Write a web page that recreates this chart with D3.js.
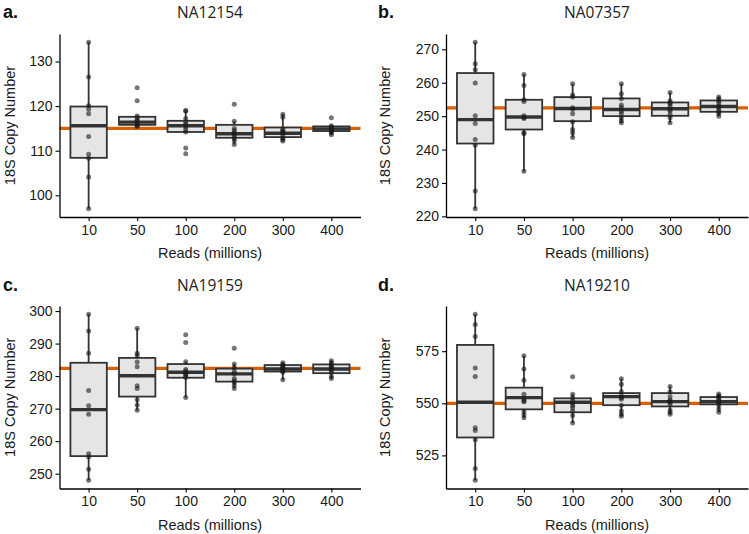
<!DOCTYPE html>
<html>
<head>
<meta charset="utf-8">
<script src="https://cdn.jsdelivr.net/npm/d3@7"></script>
<style>
  html, body { margin: 0; padding: 0; background: #fff; }
  svg { display: block; }
</style>
</head>
<body>
<script>
// ---------------- DATA ----------------
const categories = ["10", "50", "100", "200", "300", "400"];
const panelLetters = ["a.", "b.", "c.", "d."];
const panelTitles = ["NA12154", "NA07357", "NA19159", "NA19210"];
const refValues = [115.0, 252.5, 282.4, 550.0];
const xTitle = "Reads (millions)";
const yTitle = "18S Copy Number";

const yTicksA = [100, 110, 120, 130];
const yTicksB = [220, 230, 240, 250, 260, 270];
const yTicksC = [250, 260, 270, 280, 290, 300];
const yTicksD = [525, 550, 575];

// individual replicate estimates per read depth
const pointsA = [
  [134.3, 126.5, 120.1, 119.3, 118.3, 113.2, 109.2, 108.3, 104.1, 97.0],
  [124.1, 121.2, 117.8, 117.4, 116.95, 116.6, 116.35, 115.9, 115.6, 115.45],
  [119.0, 118.9, 117.2, 116.3, 115.9, 115.4, 114.8, 114.2, 110.6, 109.3],
  [120.4, 116.6, 115.0, 114.55, 114.0, 113.8, 113.3, 112.8, 112.3, 111.4],
  [118.2, 117.5, 114.8, 114.55, 114.2, 114.0, 113.4, 112.8, 112.5, 112.2],
  [117.4, 115.6, 115.3, 115.1, 114.9, 114.7, 114.5, 114.3, 113.95, 113.6]
];
const pointsB = [
  [272.1, 265.7, 263.9, 259.9, 250.1, 247.8, 243.0, 241.3, 227.6, 222.3],
  [262.5, 259.2, 254.9, 254.4, 250.1, 249.6, 249.3, 245.1, 244.7, 233.5],
  [259.7, 256.3, 255.7, 252.5, 252.1, 250.7, 248.3, 246.0, 245.0, 243.6],
  [259.7, 256.7, 255.2, 253.3, 252.6, 251.5, 250.7, 249.5, 248.6, 248.0],
  [257.1, 254.6, 254.0, 253.6, 252.9, 252.0, 251.5, 250.4, 249.5, 248.0],
  [255.7, 255.2, 254.5, 254.0, 253.0, 252.6, 251.8, 251.3, 250.8, 250.0]
];
const pointsC = [
  [299.0, 293.9, 287.0, 275.6, 270.9, 268.3, 256.1, 255.1, 251.4, 248.0],
  [294.7, 287.0, 286.3, 284.3, 282.9, 277.0, 276.2, 272.7, 271.1, 269.5],
  [292.7, 290.3, 284.4, 282.0, 281.6, 280.9, 280.5, 280.1, 279.6, 273.4],
  [288.6, 283.7, 282.6, 281.5, 280.7, 279.3, 278.6, 278.1, 277.2, 276.2],
  [284.1, 283.6, 283.2, 282.9, 282.5, 282.2, 281.9, 281.6, 281.2, 278.9],
  [284.7, 284.1, 283.4, 283.0, 282.6, 282.2, 281.8, 281.2, 279.9, 279.3]
];
const pointsD = [
  [592.7, 587.8, 582.0, 566.9, 562.9, 538.3, 537.0, 532.5, 518.7, 513.1],
  [572.8, 566.5, 561.1, 554.3, 552.1, 551.1, 550.8, 546.0, 544.4, 543.1],
  [562.7, 554.3, 552.7, 551.1, 550.0, 549.0, 547.9, 546.3, 544.1, 540.6],
  [561.8, 559.1, 555.5, 553.5, 552.7, 552.0, 549.1, 546.3, 544.8, 543.8],
  [558.1, 555.5, 553.2, 551.6, 551.1, 550.5, 549.5, 546.8, 545.7, 544.8],
  [554.4, 553.6, 553.2, 552.4, 551.6, 550.8, 550.2, 549.1, 547.3, 545.7]
];

// box statistics: [lower whisker, Q1, median, Q3, upper whisker]
const boxA = [
  [97.0, 108.4, 115.6, 119.9, 134.3],
  [115.45, 115.8, 116.4, 117.6, 117.8],
  [114.0, 114.2, 115.6, 116.7, 119.0],
  [111.4, 112.9, 113.8, 115.8, 116.6],
  [112.2, 113.05, 113.9, 115.2, 118.2],
  [113.6, 114.4, 114.9, 115.45, 115.6]
];
const boxB = [
  [222.3, 241.8, 248.95, 262.9, 272.1],
  [233.5, 246.0, 249.75, 254.9, 262.5],
  [243.6, 248.5, 252.3, 255.7, 259.7],
  [248.0, 250.0, 252.0, 255.3, 259.7],
  [248.0, 250.1, 252.2, 254.1, 257.1],
  [250.0, 251.3, 252.9, 254.7, 255.8]
];
const boxC = [
  [248.0, 255.4, 269.7, 284.1, 299.0],
  [269.5, 273.7, 280.1, 285.6, 294.7],
  [273.4, 279.5, 281.2, 283.7, 284.4],
  [276.2, 278.3, 280.7, 282.3, 283.7],
  [278.9, 281.4, 282.2, 283.4, 284.1],
  [279.3, 280.9, 282.2, 283.6, 284.7]
];
const boxD = [
  [513.1, 533.6, 550.5, 578.0, 592.7],
  [543.1, 547.1, 552.7, 557.5, 572.8],
  [540.6, 545.7, 550.5, 552.4, 554.3],
  [543.8, 549.1, 553.2, 554.9, 561.8],
  [544.8, 548.5, 550.8, 554.9, 558.1],
  [545.7, 549.5, 550.8, 553.0, 554.4]
];

// ---------------- LAYOUT ----------------
const W = 749, H = 534;
const panels = [
  { letter: panelLetters[0], title: panelTitles[0], ref: refValues[0], pts: pointsA, box: boxA, ticks: yTicksA,
    ox: 0, left: 59.5, right: 360.5, top: 34, bottom: 217, base: 0 },
  { letter: panelLetters[1], title: panelTitles[1], ref: refValues[1], pts: pointsB, box: boxB, ticks: yTicksB,
    ox: 375, left: 446, right: 748, top: 34, bottom: 217, base: 0 },
  { letter: panelLetters[2], title: panelTitles[2], ref: refValues[2], pts: pointsC, box: boxC, ticks: yTicksC,
    ox: 0, left: 59.5, right: 360.5, top: 306, bottom: 488.5, base: 273 },
  { letter: panelLetters[3], title: panelTitles[3], ref: refValues[3], pts: pointsD, box: boxD, ticks: yTicksD,
    ox: 375, left: 446, right: 748, top: 306, bottom: 488.5, base: 273 }
];

const svg = d3.select("body").append("svg")
  .attr("width", W).attr("height", H)
  .attr("viewBox", `0 0 ${W} ${H}`);

const tickFont = "'Liberation Sans', Arial, sans-serif";
const titleFont = "'Open Sans', 'Noto Sans', sans-serif";
const boxStroke = "#333333";

panels.forEach(p => {
  const g = svg.append("g");
  const x = d3.scalePoint().domain(categories).range([p.left, p.right]).padding(0.6);
  const allVals = p.pts.flat().concat([p.ref]);
  const [mn, mx] = d3.extent(allVals);
  const pad = (mx - mn) * 0.05;
  const y = d3.scaleLinear().domain([mn - pad, mx + pad]).range([p.bottom, p.top]);
  const bw = x.step() * 0.75;

  // panel letter + title
  g.append("text").attr("x", p.ox + 3).attr("y", p.base + 17.5)
    .attr("font-family", tickFont).attr("font-weight", 700).attr("font-size", 18)
    .attr("fill", "#111").text(p.letter);
  g.append("text").attr("x", (p.left + p.right) / 2).attr("y", p.base + 17.5)
    .attr("text-anchor", "middle")
    .attr("font-family", titleFont).attr("font-size", 15.5)
    .attr("fill", "#222").text(p.title);

  // reference line (behind boxes)
  g.append("line")
    .attr("x1", p.left).attr("x2", p.right)
    .attr("y1", y(p.ref)).attr("y2", y(p.ref))
    .attr("stroke", "#D95F02").attr("stroke-width", 3.2);

  // boxes
  const bg = g.append("g");
  categories.forEach((c, i) => {
    const [lo, q1, med, q3, hi] = p.box[i];
    const cx = x(c);
    bg.append("line").attr("x1", cx).attr("x2", cx).attr("y1", y(hi)).attr("y2", y(q3))
      .attr("stroke", boxStroke).attr("stroke-width", 1.8);
    bg.append("line").attr("x1", cx).attr("x2", cx).attr("y1", y(q1)).attr("y2", y(lo))
      .attr("stroke", boxStroke).attr("stroke-width", 1.8);
    bg.append("rect").attr("x", cx - bw / 2).attr("width", bw)
      .attr("y", y(q3)).attr("height", y(q1) - y(q3))
      .attr("fill", "#e5e5e5").attr("stroke", boxStroke).attr("stroke-width", 1.8);
    bg.append("line").attr("x1", cx - bw / 2).attr("x2", cx + bw / 2)
      .attr("y1", y(med)).attr("y2", y(med))
      .attr("stroke", boxStroke).attr("stroke-width", 3.4);
  });

  // points
  const pg = g.append("g");
  categories.forEach((c, i) => {
    pg.selectAll(null).data(p.pts[i]).join("circle")
      .attr("cx", x(c)).attr("cy", d => y(d)).attr("r", 2.5)
      .attr("fill", "#1a1a1a").attr("fill-opacity", 0.6);
  });

  // axes
  const yAxis = g.append("g").attr("transform", `translate(${p.left},0)`)
    .call(d3.axisLeft(y).tickValues(p.ticks).tickSize(4).tickSizeOuter(0).tickPadding(3));
  const xAxis = g.append("g").attr("transform", `translate(0,${p.bottom})`)
    .call(d3.axisBottom(x).tickSize(4).tickSizeOuter(0).tickPadding(4));
  [yAxis, xAxis].forEach(a => {
    a.select(".domain").attr("stroke", "#000").attr("stroke-width", 1.3);
    a.selectAll(".tick line").attr("stroke", "#000").attr("stroke-width", 1.1);
    a.selectAll(".tick text").attr("font-family", tickFont).attr("font-size", 14).attr("fill", "#1a1a1a");
  });

  // axis titles
  g.append("text").attr("x", (p.left + p.right) / 2).attr("y", p.bottom + 41)
    .attr("text-anchor", "middle").attr("font-family", tickFont).attr("font-size", 14.5)
    .attr("fill", "#1a1a1a").text(xTitle);
  g.append("text")
    .attr("transform", `translate(${p.ox + 10},${(p.top + p.bottom) / 2}) rotate(-90)`)
    .attr("text-anchor", "middle").attr("dy", "0.35em")
    .attr("font-family", tickFont).attr("font-size", 14.5)
    .attr("fill", "#1a1a1a").text(yTitle);
});
</script>
</body>
</html>
